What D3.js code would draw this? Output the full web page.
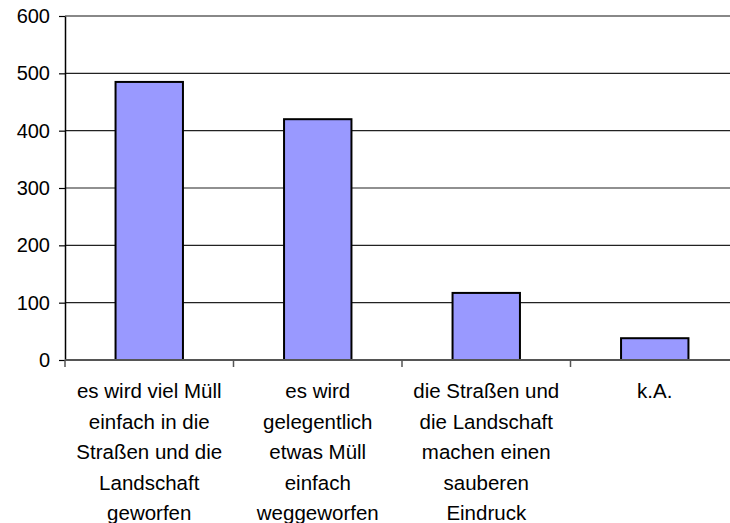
<!DOCTYPE html>
<html>
<head>
<meta charset="utf-8">
<script src="https://cdn.jsdelivr.net/npm/d3@7"></script>
<style>
  body { margin: 0; background: #fff; }
  text { font-family: "Liberation Sans", Arial, sans-serif; fill: #000; }
</style>
</head>
<body>
<svg id="chart" width="730" height="523"></svg>
<script>
var categories = [
    ["es wird viel Müll", "einfach in die", "Straßen und die", "Landschaft", "geworfen"],
    ["es wird", "gelegentlich", "etwas Müll", "einfach", "weggeworfen"],
    ["die Straßen und", "die Landschaft", "machen einen", "sauberen", "Eindruck"],
    ["k.A."]
];
var values = [485, 420, 117, 38];
var yTicks = [0, 100, 200, 300, 400, 500, 600];

var margin = { top: 16, left: 65 },
    bandW = 168.5,
    width = bandW * categories.length,
    height = 344;

var svg = d3.select("#chart")
    .append("g")
    .attr("transform", "translate(" + margin.left + "," + margin.top + ")");

var x = d3.scaleBand()
    .domain(d3.range(categories.length))
    .range([0, width])
    .paddingInner(0.6)
    .paddingOuter(0.3);

var y = d3.scaleLinear()
    .domain([0, 600])
    .range([height, 0]);

// gridlines
svg.selectAll(".grid")
    .data(yTicks.slice(1))
    .enter().append("line")
    .attr("class", "grid")
    .attr("x1", 0)
    .attr("x2", width)
    .attr("y1", function(d) { return y(d); })
    .attr("y2", function(d) { return y(d); })
    .style("stroke", function(d) { return d == 600 ? "#888" : "#222"; })
    .style("stroke-width", function(d) { return d == 600 ? 2 : 1.2; });

// bars
svg.selectAll(".bar")
    .data(values)
    .enter().append("rect")
    .attr("class", "bar")
    .attr("x", function(d, i) { return x(i); })
    .attr("width", x.bandwidth())
    .attr("y", function(d) { return y(d); })
    .attr("height", function(d) { return height - y(d); })
    .style("fill", "#9999ff")
    .style("stroke", "#000")
    .style("stroke-width", 2);

// y axis
var yAxis = d3.axisLeft(y)
    .tickValues(yTicks)
    .tickSize(6)
    .tickSizeOuter(0)
    .tickPadding(9);

var yg = svg.append("g")
    .call(yAxis);
yg.select(".domain").style("stroke", "#000").style("stroke-width", 1.5);
yg.selectAll(".tick line").style("stroke", "#000").style("stroke-width", 1.2);
yg.selectAll(".tick text")
    .style("font-size", "20px")
    .style("font-family", "'Liberation Sans', Arial, sans-serif");

// x axis
var xb = svg.append("g")
    .attr("transform", "translate(0," + height + ")");
xb.append("line")
    .attr("x1", 0).attr("x2", width)
    .attr("y1", 0).attr("y2", 0)
    .style("stroke", "#555")
    .style("stroke-width", 2);
xb.selectAll(".xtick")
    .data(d3.range(categories.length + 1))
    .enter().append("line")
    .attr("x1", function(d) { return d * bandW; })
    .attr("x2", function(d) { return d * bandW; })
    .attr("y1", 0).attr("y2", 7)
    .style("stroke", "#555")
    .style("stroke-width", 1.5);

var labels = xb.selectAll(".xlabel")
    .data(categories)
    .enter().append("text")
    .attr("class", "xlabel")
    .attr("text-anchor", "middle")
    .attr("transform", function(d, i) {
        return "translate(" + (x(i) + x.bandwidth() / 2) + ",38)";
    })
    .style("font-size", "20.5px");

labels.selectAll("tspan")
    .data(function(d) { return d; })
    .enter().append("tspan")
    .attr("x", 0)
    .attr("y", function(d, i) { return i * 30.5; })
    .text(function(d) { return d; });
</script>
</body>
</html>
